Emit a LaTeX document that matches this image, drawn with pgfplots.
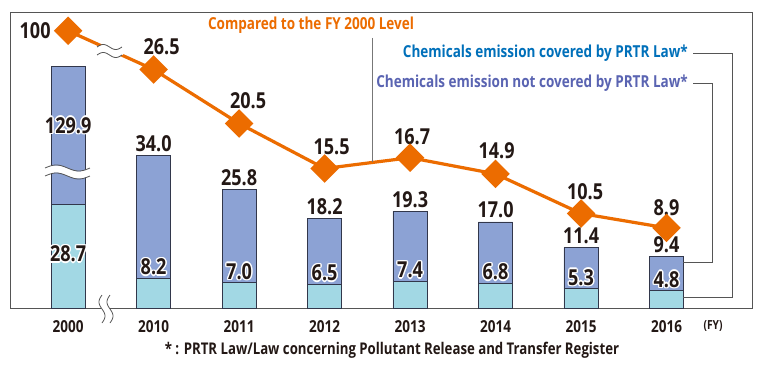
\documentclass[border=0pt]{standalone}
\usepackage{pgfplots}
\pgfplotsset{compat=1.18}
\usepackage{fontspec}
\setmainfont{Open Sans}[FakeStretch=0.82]
\definecolor{nc}{RGB}{140,162,212}
\definecolor{cv}{RGB}{162,216,228}
\definecolor{org}{RGB}{236,108,0}
\definecolor{blu}{RGB}{0,112,186}
\definecolor{pur}{RGB}{90,100,178}
\definecolor{edge}{RGB}{50,55,75}
\definecolor{frm}{RGB}{85,85,85}
\definecolor{txt}{RGB}{35,24,21}
\newcommand\hc[3]{\rlap{\kern#1\raise#2\hbox{#3}}}
\newcommand\halo[1]{\leavevmode{\color{white}\hc{1.4pt}{0pt}{#1}\hc{-1.4pt}{0pt}{#1}\hc{0pt}{1.4pt}{#1}\hc{0pt}{-1.4pt}{#1}\hc{1pt}{1pt}{#1}\hc{-1pt}{1pt}{#1}\hc{1pt}{-1pt}{#1}\hc{-1pt}{-1pt}{#1}}#1}
\newcommand\vfont{\fontsize{22}{24}\selectfont\bfseries}
\tikzset{
  tl/.style={font=\vfont, text=txt, inner sep=0pt, anchor=base, yshift=4pt},
  cl/.style={font=\vfont, text=txt, inner sep=0pt, anchor=base, yshift=3.5pt},
  ll/.style={font=\vfont, text=txt, inner sep=0pt}
}
\pgfplotsset{base/.style={at={(10pt,355pt)}, anchor=north west, width=742pt, height=296pt, scale only axis,
  xmin=-0.68, xmax=8.0, clip=false}}
\begin{document}
\begin{tikzpicture}[x=1pt,y=1pt,font=\bfseries]
\useasboundingbox (0,0) rectangle (765,367);
\fill[white] (0,0) rectangle (765,367);
\begin{axis}[base, ymin=0, ymax=81.77, ybar stacked, bar width=0.4,
  axis line style={draw=frm, line width=0.8pt},
  xtick={0,...,7}, xticklabels={2000,2010,2011,2012,2013,2014,2015,2016},
  ytick=\empty, major tick length=0pt,
  xticklabel style={anchor=base, yshift=-24pt, font=\fontsize{16.5}{18}\selectfont\bfseries, text=txt}]
\addplot[fill=cv, draw=edge, line width=0.7pt] coordinates {(0,28.7) (1,8.2) (2,7.0) (3,6.5) (4,7.4) (5,6.8) (6,5.3) (7,4.8)};
\addplot[fill=nc, draw=edge, line width=0.7pt] coordinates {(0,38.0) (1,34.0) (2,25.8) (3,18.2) (4,19.3) (5,17.0) (6,11.4) (7,9.4)};
\end{axis}
\begin{axis}[base, ymin=0, ymax=81.77, hide axis]
\addplot[draw=none] coordinates {(0,0) (7,0)};
\node[tl] at (axis cs:1,42.2) {34.0};
\node[tl] at (axis cs:2,32.8) {25.8};
\node[tl] at (axis cs:3,24.7) {18.2};
\node[tl] at (axis cs:4,26.7) {19.3};
\node[tl] at (axis cs:5,23.8) {17.0};
\node[tl] at (axis cs:6,16.7) {11.4};
\node[tl] at (axis cs:7,14.2) {9.4};
\node[cl] at (axis cs:1,8.2) {\halo{8.2}};
\node[cl] at (axis cs:2,7.0) {\halo{7.0}};
\node[cl] at (axis cs:3,6.5) {\halo{6.5}};
\node[cl] at (axis cs:4,7.4) {\halo{7.4}};
\node[cl] at (axis cs:5,6.8) {\halo{6.8}};
\node[cl] at (axis cs:6,5.3) {\halo{5.3}};
\node[cl] at (axis cs:7,4.8) {\halo{4.8}};
\node[ll] at (axis cs:0,50.5) {\halo{129.9}};
\node[ll] at (axis cs:0,14.9) {\halo{28.7}};
\end{axis}
\draw[white, line width=7pt] plot[domain=0:1, samples=30, smooth] ({45+45*\x},{195+3*sin(360*\x)});
\draw[frm, line width=0.8pt] plot[domain=0:1, samples=30, smooth] ({45+45*\x},{199+3*sin(360*\x)});
\draw[frm, line width=0.8pt] plot[domain=0:1, samples=30, smooth] ({45+45*\x},{191+3*sin(360*\x)});
\fill[white] (101,55) rectangle (110,63);
\draw[frm, line width=0.8pt] plot[domain=0:1, samples=30, smooth] ({102+3*sin(360*\x)},{44+28*\x});
\draw[frm, line width=0.8pt] plot[domain=0:1, samples=30, smooth] ({110+3*sin(360*\x)},{44+28*\x});
\begin{axis}[base, ymin=0, ymax=32.89, hide axis]
\addplot[org, line width=3.2pt, mark=square*, mark size=8.5pt, mark options={rotate=45, solid}]
  coordinates {(0,30.8) (1,26.5) (2,20.5) (3,15.5) (4,16.7) (5,14.9) (6,10.5) (7,8.9)};
\node[ll, xshift=-33pt] at (axis cs:0,30.8) {100};
\node[ll, xshift=8pt, yshift=23pt] at (axis cs:1,26.5) {26.5};
\node[ll, xshift=9pt, yshift=23pt] at (axis cs:2,20.5) {20.5};
\node[ll, xshift=7pt, yshift=22pt] at (axis cs:3,15.5) {15.5};
\node[ll, xshift=2pt, yshift=21pt] at (axis cs:4,16.7) {16.7};
\node[ll, xshift=1pt, yshift=23pt] at (axis cs:5,14.9) {14.9};
\node[ll, xshift=4pt, yshift=22pt] at (axis cs:6,10.5) {10.5};
\node[ll, xshift=0pt, yshift=20pt] at (axis cs:7,8.9) {8.9};
\end{axis}
\draw[white, line width=7pt] plot[domain=0:1, samples=30, smooth] ({97+25*\x},{316+2.5*sin(360*\x)});
\draw[frm, line width=0.8pt] plot[domain=0:1, samples=30, smooth] ({97+25*\x},{320+2.5*sin(360*\x)});
\draw[frm, line width=0.8pt] plot[domain=0:1, samples=30, smooth] ({97+25*\x},{312+2.5*sin(360*\x)});
\draw[frm!80, line width=0.8pt] (372,329) -- (372,204.5);
\node[font=\fontsize{16.5}{18}\selectfont\bfseries, text=org, inner sep=0pt] at (311,342) {Compared to the FY 2000 Level};
\node[font=\fontsize{16.5}{18}\selectfont\bfseries, text=blu, inner sep=0pt, anchor=east] at (688,314) {Chemicals emission covered by PRTR Law*};
\node[font=\fontsize{16.5}{18}\selectfont\bfseries, text=pur, inner sep=0pt, anchor=east] at (688,284) {Chemicals emission not covered by PRTR Law*};
\draw[frm, line width=0.8pt] (693,314) -- (732,314) -- (732,70) -- (683,70);
\draw[frm, line width=0.8pt] (693,284) -- (712,284) -- (712,105) -- (683,105);
\node[font=\fontsize{12.5}{14}\selectfont\bfseries, text=txt, inner sep=0pt] at (713,41) {(FY)};
\node[font=\fontsize{16.1}{18}\selectfont\bfseries, text=txt, inner sep=0pt] at (392,17) {* : PRTR Law/Law concerning Pollutant Release and Transfer Register};
\end{tikzpicture}
\end{document}
